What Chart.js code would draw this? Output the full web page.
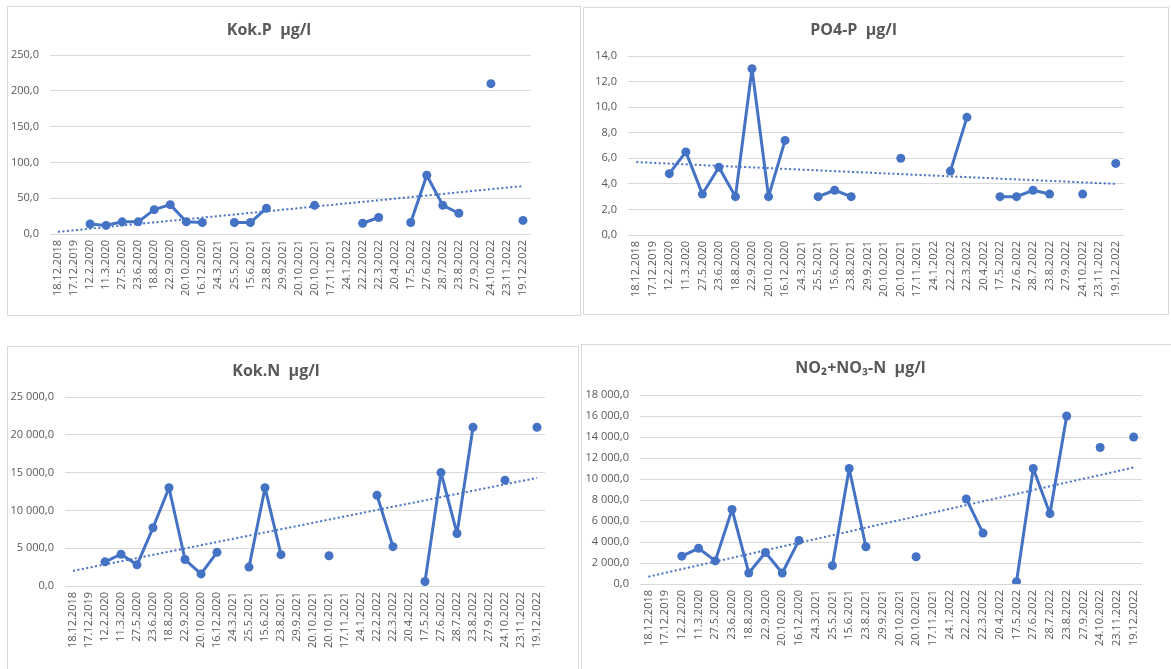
<!DOCTYPE html>
<html>
<head>
<meta charset="utf-8">
<script src="https://cdn.jsdelivr.net/npm/chart.js@4"></script>
<style>
  html, body { margin: 0; padding: 0; background: #ffffff; width: 1171px; height: 669px; overflow: hidden; }
  .panel { position: absolute; border: 1px solid #d9d9d9; box-sizing: border-box; }
  canvas { position: absolute; }
</style>
</head>
<body>
<div class="panel" style="left:7px;top:6px;width:574px;height:310px;"></div>
<div class="panel" style="left:583px;top:7px;width:586px;height:308px;"></div>
<div class="panel" style="left:7px;top:346px;width:572px;height:330px;"></div>
<div class="panel" style="left:581px;top:344px;width:600px;height:330px;"></div>
<canvas id="c1" width="573" height="309" style="left:7px;top:6px;"></canvas>
<canvas id="c2" width="585" height="308" style="left:583px;top:7px;"></canvas>
<canvas id="c3" width="571" height="324" style="left:7px;top:345px;"></canvas>
<canvas id="c4" width="592" height="326" style="left:579px;top:343px;"></canvas>
<script>
// ---- data ----
const categories = ["18.12.2018","17.12.2019","12.2.2020","11.3.2020","27.5.2020","23.6.2020","18.8.2020","22.9.2020","20.10.2020","16.12.2020","24.3.2021","25.5.2021","15.6.2021","23.8.2021","29.9.2021","20.10.2021","20.10.2021","17.11.2021","24.1.2022","22.2.2022","22.3.2022","20.4.2022","17.5.2022","27.6.2022","28.7.2022","23.8.2022","27.9.2022","24.10.2022","23.11.2022","19.12.2022"];

const kokP = [null,null,14,12,17,17,34,41,17,16,null,16,16,36,null,null,40,null,null,15,23,null,16,82,40,29,null,210,null,19];
const po4P = [null,null,4.8,6.5,3.2,5.3,3.0,13.0,3.0,7.4,null,3.0,3.5,3.0,null,null,6.0,null,null,5.0,9.2,null,3.0,3.0,3.5,3.2,null,3.2,null,5.6];
const kokN = [null,null,3200,4200,2800,7700,13000,3500,1600,4450,null,2500,13000,4150,null,null,4000,null,null,12000,5200,null,600,15000,6950,21000,null,14000,null,21000];
const no23N = [null,null,2650,3400,2200,7100,1050,3000,1050,4150,null,1750,11000,3550,null,null,2600,null,null,8100,4850,null,220,11000,6700,16000,null,13000,null,14000];

// linear trendline end values (first and last category)
const trendKokP = [3, 67];
const trendPo4P = [5.7, 4.0];
const trendKokN = [2000, 14300];
const trendNo23N = [700, 11100];

const titles = ["Kok.P  µg/l", "PO4-P  µg/l", "Kok.N  µg/l", "NO\u2082+NO\u2083-N  µg/l"];
const yMax = [250, 14, 25000, 18000];
const yStep = [50, 2, 5000, 2000];

// ---- helpers ----
function fmt(v) {
  const s = Number(v).toFixed(1);
  let [i, d] = s.split('.');
  i = i.replace(/\B(?=(\d{3})+(?!\d))/g, '\u00a0');
  return i + ',' + d;
}
function trendData(ends) {
  const arr = categories.map(() => null);
  arr[0] = ends[0];
  arr[arr.length - 1] = ends[1];
  return arr;
}

const BLUE = '#4472C4';
const TXT = '#595959';

function makeChart(id, series, trend, title, max, step, L) {
  const cv = document.getElementById(id);
  const W = cv.width, H = cv.height;
  new Chart(cv, {
    type: 'line',
    data: {
      labels: categories,
      datasets: [
        {
          data: trendData(trend),
          borderColor: BLUE,
          borderWidth: 2,
          borderDash: [2, 2.5],
          pointRadius: 0,
          spanGaps: true,
          order: 0,
          fill: false
        },
        {
          data: series,
          borderColor: BLUE,
          backgroundColor: BLUE,
          borderWidth: 3,
          borderJoinStyle: 'round',
          borderCapStyle: 'round',
          pointRadius: 4.5,
          pointBorderWidth: 0,
          pointBackgroundColor: BLUE,
          spanGaps: false,
          tension: 0,
          order: 1,
          fill: false
        }
      ]
    },
    options: {
      responsive: false,
      animation: false,
      events: [],
      layout: { padding: { left: 0, right: W - L.right, top: 0, bottom: 0 } },
      plugins: {
        legend: { display: false },
        tooltip: { enabled: false },
        title: {
          display: true,
          text: title,
          color: TXT,
          font: { family: 'Open Sans', size: 16, weight: 'bold' },
          padding: { top: L.titleY - 9.6, bottom: L.top - L.titleY - 9.6 }
        }
      },
      scales: {
        x: {
          offset: true,
          grid: { display: false, drawTicks: false },
          border: { display: false },
          ticks: {
            autoSkip: false,
            minRotation: 90,
            maxRotation: 90,
            padding: 6,
            color: TXT,
            font: { family: 'Open Sans', size: 11 }
          },
          afterFit: (s) => { s.height = H - L.bottom; }
        },
        y: {
          min: 0,
          max: max,
          grid: { color: '#d9d9d9', lineWidth: 1, drawTicks: false },
          border: { display: false },
          ticks: {
            stepSize: step,
            padding: 11,
            color: TXT,
            font: { family: 'Open Sans', size: 11 },
            callback: (v) => fmt(v)
          },
          afterFit: (s) => { s.width = L.left; }
        }
      }
    }
  });
}

makeChart('c1', kokP, trendKokP, titles[0], yMax[0], yStep[0], { left: 43, right: 524, top: 49, bottom: 228, titleY: 24 });
makeChart('c2', po4P, trendPo4P, titles[1], yMax[1], yStep[1], { left: 45, right: 541, top: 49, bottom: 228, titleY: 23 });
makeChart('c3', kokN, trendKokN, titles[2], yMax[2], yStep[2], { left: 58, right: 538, top: 52, bottom: 241, titleY: 26 });
makeChart('c4', no23N, trendNo23N, titles[3], yMax[3], yStep[3], { left: 61, right: 563, top: 52, bottom: 241, titleY: 25 });
</script>
</body>
</html>
